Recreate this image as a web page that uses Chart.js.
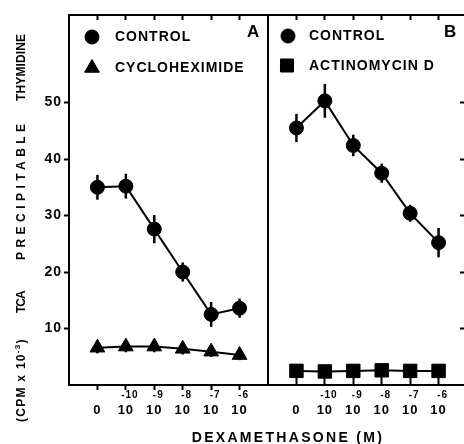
<!DOCTYPE html>
<html><head><meta charset="utf-8">
<script src="https://cdn.jsdelivr.net/npm/chart.js@4/dist/chart.umd.min.js"></script>
<style>
html,body{margin:0;padding:0;background:#fff;overflow:hidden;width:464px;height:444px}
#wrap{position:relative;width:464px;height:444px;overflow:hidden;background:#fff}
canvas{position:absolute;top:0}
#ca{left:0}
#cb{left:266px}
.t{position:absolute;font-family:"Liberation Sans",Arial,sans-serif;font-weight:bold;color:#000;white-space:nowrap;line-height:1}
#ytitle{font-size:12px;left:21px;top:227.5px;width:388px;height:12px;transform:translate(-50%,-50%) rotate(-90deg);transform-origin:50% 50%}
#ytitle .w{display:inline-block;white-space:nowrap;vertical-align:top}
#xtitle{font-size:14px;left:288px;top:430px;transform:translateX(-50%)}
.sup{position:relative;top:-5px;font-size:8px}
#la{font-size:17px;left:247px;top:23px}
#lb{font-size:17px;left:444px;top:23px}
</style></head>
<body>
<div id="wrap">
<canvas id="ca" width="268" height="444"></canvas>
<canvas id="cb" width="203" height="444"></canvas>
<div class="t" id="ytitle"><span class="w" data-w="82" data-gap="27">(CPM x 10<span class="sup">-3</span>)</span><span class="w" data-w="23" data-gap="30">TCA</span><span class="w" data-w="136" data-gap="23">PRECIPITABLE</span><span class="w" data-w="67" data-gap="0">THYMIDINE</span></div>
<div class="t" id="xtitle">DEXAMETHASONE (M)</div>
<div class="t" id="la">A</div>
<div class="t" id="lb">B</div>
</div>
<script>
// ---- data ----
const CATEGORIES = [0, 1, 2, 3, 4, 5];
const X_BASE = ['0', '10', '10', '10', '10', '10'];
const X_EXP = ['', '-10', '-9', '-8', '-7', '-6'];
const Y_TICKS = [10, 20, 30, 40, 50];

const CONTROL_A = [35.0, 35.2, 27.6, 20.0, 12.5, 13.6];
const CONTROL_A_ERR = [2.2, 2.2, 2.5, 1.7, 2.2, 1.7];
const CYCLOHEXIMIDE = [6.6, 6.8, 6.8, 6.4, 5.9, 5.3];
const CYCLOHEXIMIDE_ERR = [1.0, 1.0, 1.0, 1.0, 0.9, 0.9];

const CONTROL_B = [45.5, 50.3, 42.4, 37.5, 30.4, 25.2];
const CONTROL_B_ERR = [2.5, 3.0, 1.9, 1.7, 1.5, 2.6];
const ACTINOMYCIN = [2.5, 2.4, 2.5, 2.6, 2.5, 2.5];
const ACTINOMYCIN_ERR = [0.4, 0.4, 0.4, 0.4, 0.4, 0.4];

const FONT = '"Liberation Sans", Arial, sans-serif';

// fit HTML title words to their span in the reference (layout widths, unaffected by rotation)
document.querySelectorAll('#ytitle .w').forEach(sp => {
  const target = +sp.dataset.w;
  sp.style.letterSpacing = '0px';
  const w = sp.offsetWidth;
  const n = sp.textContent.length;
  sp.style.letterSpacing = Math.max((target - w) / Math.max(n - 1, 1), -1) + 'px';
  sp.style.width = target + 'px';
  sp.style.marginRight = sp.dataset.gap + 'px';
});
(function () {
  const el = document.getElementById('xtitle');
  el.style.letterSpacing = '0px';
  const w = el.offsetWidth, n = el.textContent.length;
  el.style.letterSpacing = ((190 - w) / (n - 1)) + 'px';
})();

const pts = arr => arr.map((v, i) => ({x: CATEGORIES[i], y: v}));
const catTicks = s => { s.ticks = CATEGORIES.map(v => ({value: v})); };
const yTicks = s => { s.ticks = Y_TICKS.map(v => ({value: v})); };
const noPad = s => { s.paddingLeft = 0; s.paddingRight = 0; s.paddingTop = 0; s.paddingBottom = 0; };

const errorBars = {
  id: 'errorBars',
  beforeDatasetsDraw(chart) {
    const ctx = chart.ctx, xs = chart.scales.x, ys = chart.scales.y;
    ctx.save();
    ctx.strokeStyle = '#000'; ctx.lineWidth = 2.5;
    chart.data.datasets.forEach(ds => {
      if (!ds.errors) return;
      ds.data.forEach((p, i) => {
        const e = ds.errors[i];
        const px = xs.getPixelForValue(p.x);
        ctx.beginPath();
        ctx.moveTo(px, ys.getPixelForValue(p.y + e));
        ctx.lineTo(px, ys.getPixelForValue(p.y - e));
        ctx.stroke();
      });
    });
    ctx.restore();
  }
};

const spacing = {
  id: 'spacing',
  beforeDraw(chart) { chart.ctx.letterSpacing = '1px'; }
};

const panelLegend = {
  id: 'panelLegend',
  afterDatasetsDraw(chart, args, opts) {
    const ctx = chart.ctx, ca = chart.chartArea;
    ctx.save();
    ctx.fillStyle = '#000'; ctx.strokeStyle = '#000';
    ctx.font = 'bold 14px ' + FONT;
    ctx.letterSpacing = '1px';
    ctx.textBaseline = 'middle'; ctx.textAlign = 'left';
    opts.items.forEach(it => {
      const ds = chart.data.datasets[it.dataset];
      const y = ca.top + it.dy;
      Chart.helpers.drawPoint(ctx, {pointStyle: ds.pointStyle, radius: it.radius, rotation: 0, borderWidth: 1}, ca.left + it.dx, y);
      ctx.fillText(ds.label, ca.left + opts.textDx, y + 0.5);
    });
    ctx.restore();
  }
};

function ds(label, data, errors, style, radius) {
  return {
    label, data: pts(data), errors,
    borderColor: '#000', borderWidth: 2, tension: 0,
    pointStyle: style, pointRadius: radius, pointHoverRadius: radius,
    pointBackgroundColor: '#000', pointBorderColor: '#000', pointBorderWidth: 1
  };
}

function panel(canvasId, datasets, isA, legendOpts) {
  const tick = {color: '#000', font: {family: FONT, weight: 'bold'}};
  const scales = {
    x: {
      type: 'linear', position: 'bottom', min: -1, max: 6, weight: 0,
      afterBuildTicks: catTicks,
      afterFit: s => { s.height = 18; noPad(s); },
      grid: {drawOnChartArea: false, tickLength: isA ? 5 : -8, tickWidth: 2, color: '#000'},
      border: {display: true, width: 2, color: '#000'},
      ticks: {...tick, font: {...tick.font, size: 10}, autoSkip: false, maxRotation: 0,
        padding: isA ? -1 : 12, labelOffset: 4,
        callback: (v, i) => X_EXP[i]}
    },
    xb: {
      type: 'linear', position: 'bottom', min: -1, max: 6, weight: 1,
      afterBuildTicks: catTicks,
      afterFit: s => { s.height = 444 - 385 - 18; noPad(s); },
      grid: {display: false},
      border: {display: false},
      ticks: {...tick, font: {...tick.font, size: 13}, autoSkip: false, maxRotation: 0,
        padding: -8, callback: (v, i) => X_BASE[i]}
    },
    xt: {
      type: 'linear', position: 'top', min: -1, max: 6,
      afterBuildTicks: catTicks,
      afterFit: s => { s.height = 15; noPad(s); },
      grid: {drawOnChartArea: false, tickLength: -5, tickWidth: 2, color: '#000'},
      border: {display: true, width: 2, color: '#000'},
      ticks: {display: false}
    },
    y: {
      type: 'linear', position: 'left', min: 0, max: 65.5,
      afterBuildTicks: yTicks,
      afterFit: s => { s.width = isA ? 69 : 2; noPad(s); },
      grid: {drawOnChartArea: false, drawTicks: isA, tickLength: 5, tickWidth: 2, color: '#000'},
      border: {display: true, width: 2, color: '#000'},
      ticks: {...tick, font: {...tick.font, size: 14}, padding: 2, display: isA}
    }
  };
  if (!isA) {
    scales.yr = {
      type: 'linear', position: 'right', min: 0, max: 65.5,
      afterBuildTicks: yTicks,
      afterFit: s => { s.width = 2; noPad(s); },
      grid: {drawOnChartArea: false, tickLength: -7, tickWidth: 2, color: '#000'},
      border: {display: true, width: 2, color: '#000'},
      ticks: {display: false}
    };
  }
  return new Chart(document.getElementById(canvasId), {
    type: 'line',
    data: {datasets},
    options: {
      responsive: false, animation: false, devicePixelRatio: 1,
      layout: {padding: 0, autoPadding: false},
      scales,
      plugins: {legend: {display: false}, tooltip: {enabled: false}, panelLegend: legendOpts}
    },
    plugins: [spacing, errorBars, panelLegend]
  });
}

panel('ca', [
  ds('CONTROL', CONTROL_A, CONTROL_A_ERR, 'circle', 7),
  ds('CYCLOHEXIMIDE', CYCLOHEXIMIDE, CYCLOHEXIMIDE_ERR, 'triangle', 8.5)
], true, {textDx: 46, items: [
  {dataset: 0, dx: 23, dy: 22, radius: 7},
  {dataset: 1, dx: 23, dy: 53, radius: 8.5}
]});

panel('cb', [
  ds('CONTROL', CONTROL_B, CONTROL_B_ERR, 'circle', 7),
  ds('ACTINOMYCIN D', ACTINOMYCIN, ACTINOMYCIN_ERR, 'rect', 9.5)
], false, {textDx: 41, items: [
  {dataset: 0, dx: 20, dy: 21, radius: 7},
  {dataset: 1, dx: 19, dy: 50.5, radius: 9.2}
]});
</script>
</body></html>
